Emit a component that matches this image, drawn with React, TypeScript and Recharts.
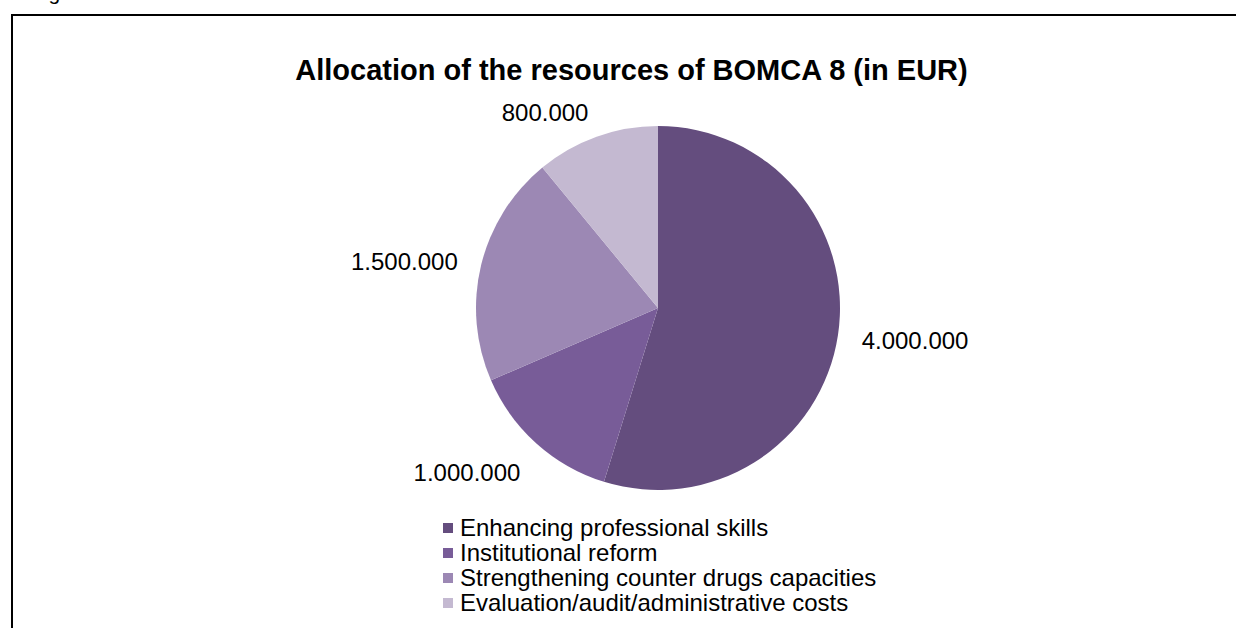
import { PieChart, Pie, Cell, Legend } from "recharts";

const categories = [
  "Enhancing professional skills",
  "Institutional reform",
  "Strengthening counter drugs capacities",
  "Evaluation/audit/administrative costs",
];
const amounts = [4000000, 1000000, 1500000, 800000];
const COLORS = ["#644D7E", "#785C98", "#9C88B4", "#C4B9D1"];

const data = categories.map((name, i) => ({ name, value: amounts[i] }));

const FONT = "'Liberation Sans', Arial, sans-serif";
const RADIAN = Math.PI / 180;

// 4000000 -> "4.000.000"
const fmt = (n: number) => String(n).replace(/\B(?=(\d{3})+(?!\d))/g, ".");

const renderLabel = (props: any) => {
  const { cx, cy, midAngle, outerRadius, value } = props;
  const r = outerRadius + 24;
  const dx = Math.cos(-midAngle * RADIAN);
  const dy = Math.sin(-midAngle * RADIAN);
  const x = cx + r * dx;
  const y = cy + r * dy;
  let baseline = "central";
  let yy = y + 2;
  if (dy > 0.5) baseline = "hanging";
  else if (dy < -0.5) {
    baseline = "auto";
    yy = y + 7;
  }
  return (
    <text
      x={x}
      y={yy}
      fill="#000"
      fontSize={24}
      fontFamily={FONT}
      textAnchor={dx >= 0 ? "start" : "end"}
      dominantBaseline={baseline}
    >
      {fmt(value)}
    </text>
  );
};

const renderLegend = (props: any) => {
  const items = [...(props.payload || [])].sort(
    (a: any, b: any) => categories.indexOf(a.value) - categories.indexOf(b.value)
  );
  return (
    <div style={{ fontFamily: FONT, fontSize: 24, lineHeight: "25px", color: "#000" }}>
      {items.map((entry: any, i: number) => (
        <div key={i} style={{ display: "flex", alignItems: "center", whiteSpace: "nowrap" }}>
          <span
            style={{
              display: "inline-block",
              width: 10,
              height: 10,
              background: entry.color,
              marginRight: 7,
            }}
          />
          <span>{entry.value}</span>
        </div>
      ))}
    </div>
  );
};

export default function App() {
  return (
    <div style={{ position: "absolute", left: 0, top: 0, width: 1236, height: 628, overflow: "hidden", background: "#fff" }}>
      {/* tail of the caption line above the figure */}
      <div style={{ position: "absolute", left: 31, top: -18, fontFamily: FONT, fontSize: 21, lineHeight: "21px" }}>
        Fig
      </div>
      {/* frame */}
      <div
        style={{
          position: "absolute",
          left: 11,
          top: 14,
          width: 1260,
          height: 640,
          borderTop: "2px solid #000",
          borderLeft: "2px solid #000",
        }}
      />
      <div
        style={{
          position: "absolute",
          left: 0,
          width: 1263,
          top: 53,
          textAlign: "center",
          fontFamily: FONT,
          fontWeight: "bold",
          fontSize: 29,
          lineHeight: "34px",
          whiteSpace: "nowrap",
        }}
      >
        Allocation of the resources of BOMCA 8 (in EUR)
      </div>
      <div style={{ position: "absolute", left: 0, top: 0 }}>
        <PieChart width={1236} height={628} margin={{ top: 0, right: 0, bottom: 0, left: 0 }}>
          <Pie
            data={data}
            dataKey="value"
            nameKey="name"
            cx={658}
            cy={308}
            outerRadius={182}
            startAngle={90}
            endAngle={-270}
            stroke="none"
            label={renderLabel}
            labelLine={false}
            isAnimationActive={false}
          >
            {data.map((_, i) => (
              <Cell key={i} fill={COLORS[i]} />
            ))}
          </Pie>
          <Legend
            layout="vertical"
            content={renderLegend}
            wrapperStyle={{ position: "absolute", left: 443, top: 515, width: "auto" }}
          />
        </PieChart>
      </div>
    </div>
  );
}
